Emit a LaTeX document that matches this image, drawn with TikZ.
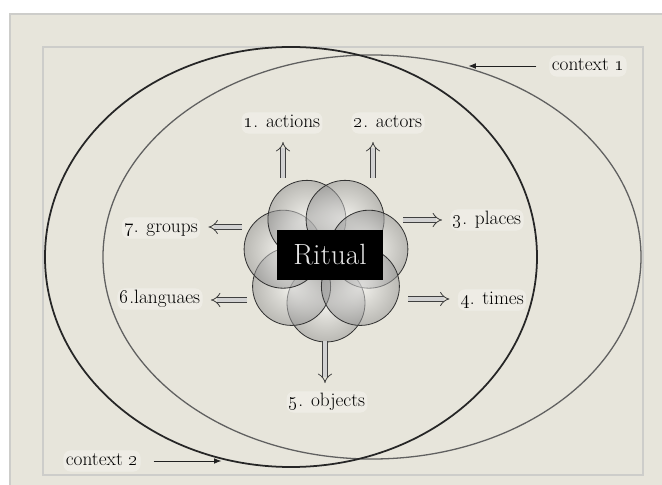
\documentclass[tikz,border=0pt]{standalone}
\usepackage{tikz}
\usetikzlibrary{arrows.meta,shapes.geometric,calc}
\definecolor{paper}{HTML}{E7E5DB}
\definecolor{frame}{HTML}{CDCDCA}
\definecolor{petal}{HTML}{8E8E8E}
\tikzset{%
    >={Latex[length=2.2mm,width=1.7mm]},
    lbl/.style={font=\fontsize{16.5}{18}\selectfont, fill=white, fill opacity=0.3, text opacity=1,
        rounded corners=6pt, inner sep=2pt, text height=11pt, text depth=3pt},
    petalnode/.style={circle, minimum size=2.34cm, inner sep=0pt, draw=gray!40!black, line width=0.7pt,
        inner color=white, outer color=petal, fill opacity=0.5},
    hollow/.style={draw=gray!50!black, double=gray!35, double distance=3.6pt, line width=0.7pt,
        -{Implies}, shorten >=7pt},
    ptr/.style={draw=gray!25!black, line width=0.7pt, ->, shorten <=11pt}
}

\begin{document}
\begin{tikzpicture}[x=0.03cm, y=-0.03cm]
      \useasboundingbox (0,0) rectangle (662,485);
      \fill[white] (0,0) rectangle (662,485);
      \fill[paper] (10,14) rectangle (662,485);
      \draw[frame, line width=1.2pt] (10,485) -- (10,14) -- (662,14);
      \draw[frame, line width=1.2pt] (43,47) rectangle (643,475);

      \node[ellipse, draw=gray!75!black, line width=1.1pt, inner sep=0pt,
            minimum width=16.14cm, minimum height=12.12cm] (ctx1) at (372,257) {};
      \node[ellipse, draw=black!85, line width=1.5pt, inner sep=0pt,
            minimum width=14.76cm, minimum height=12.6cm] (ctx2) at (291,257) {};

      \foreach \k in {0,...,6}
        \node[petalnode] (p\k) at ($(326,259)+({90+\k*360/7}:44)$) {};

      \node[fill=black, minimum width=3.18cm, minimum height=1.5cm, text=gray!20,
            font=\fontsize{25}{25}\selectfont] (ritual) at (330,255) {Ritual};

      \node[lbl] (actions) at (282,123) {\oldstylenums{1}. actions};
      \node[lbl] (actors) at (388,123) {\oldstylenums{2}. actors};
      \node[lbl] (places) at (487,220) {\oldstylenums{3}. places};
      \node[lbl] (times) at (492,300) {\oldstylenums{4}. times};
      \node[lbl] (objects) at (327,402) {\oldstylenums{5}. objects};
      \node[lbl] (languaes) at (160,299) {\oldstylenums{6}.languaes};
      \node[lbl] (groups) at (161,228) {\oldstylenums{7}. groups};

      \node[lbl] (ctxa) at (588,66) {context \oldstylenums{1}};
      \node[lbl] (ctxb) at (102,461) {context \oldstylenums{2}};

      \coordinate (t1) at (283,178);
      \coordinate (t2) at (373,178);
      \coordinate (t3) at (403,220);
      \coordinate (t4) at (408,299);
      \coordinate (t5) at (325,341);
      \coordinate (t6) at (247,300);
      \coordinate (t7) at (242,227);

      \draw[hollow] (t1) -- (t1 |- actions.south);
      \draw[hollow] (t2) -- (t2 |- actors.south);
      \draw[hollow] (t3) -- (t3 -| places.west);
      \draw[hollow] (t4) -- (t4 -| times.west);
      \draw[hollow] (t5) -- (t5 |- objects.north);
      \draw[hollow] (t6) -- (t6 -| languaes.east);
      \draw[hollow] (t7) -- (t7 -| groups.east);

      \draw[ptr] (ctxa.west) -- (ctx1.63 |- ctxa.west);
      \draw[ptr] (ctxb.east) -- (ctx2.251 |- ctxb.east);
\end{tikzpicture}
\end{document}
